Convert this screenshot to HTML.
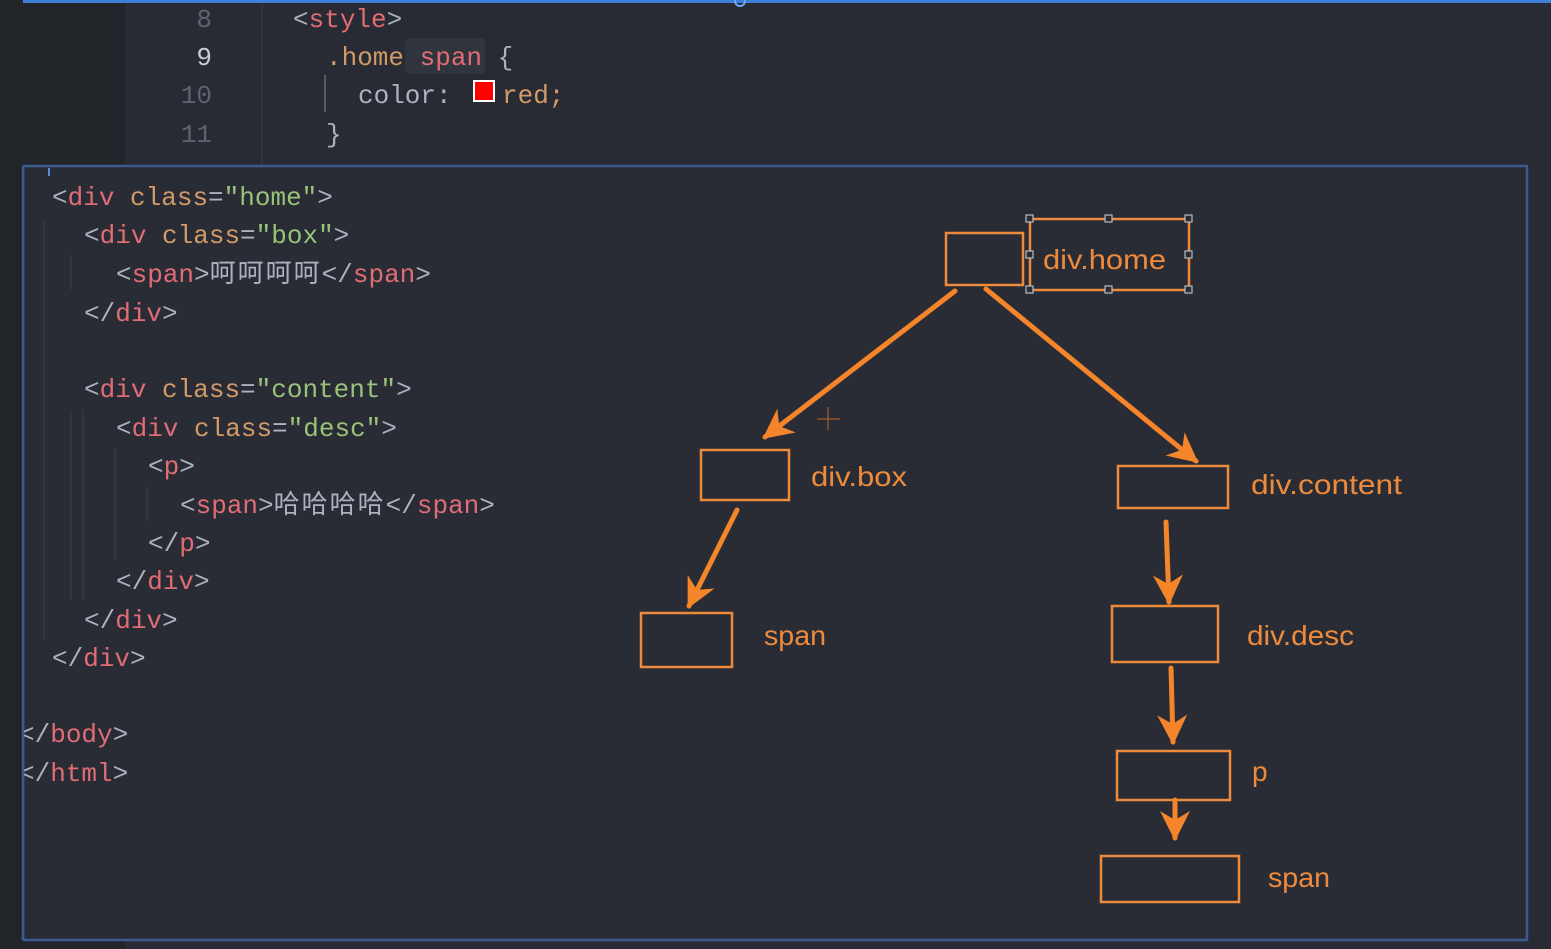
<!DOCTYPE html>
<html><head><meta charset="utf-8">
<style>
html,body{margin:0;padding:0;width:1551px;height:949px;overflow:hidden;background:#23262d;}
svg{display:block}
.m{font-family:"Liberation Mono","Noto Sans CJK SC",monospace;font-size:26px;}
.s{font-family:"Liberation Sans","DejaVu Sans",sans-serif;font-size:28px;fill:#ee8a3c;}
</style></head>
<body>
<svg width="1551" height="949" viewBox="0 0 1551 949" xmlns="http://www.w3.org/2000/svg">
<defs>
<marker id="ah" viewBox="0 0 10 10" refX="9" refY="5" markerWidth="6" markerHeight="6" orient="auto" markerUnits="strokeWidth">
<path d="M0,0 L10,5 L0,10 L3,5 z" fill="#f5852a"/>
</marker>
</defs>
<rect x="0" y="0" width="1551" height="949" fill="#282b33"/>
<rect x="0" y="0" width="125" height="949" fill="#212429"/>
<rect x="0" y="0" width="1551" height="3" fill="#3d7fd9"/>
<circle cx="740" cy="1" r="5" fill="none" stroke="#6fa6ff" stroke-width="2"/>
<line x1="262" y1="5" x2="262" y2="165" stroke="#3a3e46" stroke-width="1"/>
<line x1="325" y1="75" x2="325" y2="112" stroke="#555a63" stroke-width="2"/>
<rect x="405" y="38" width="80" height="36" rx="4" fill="#30343d"/>
<g class="m">
<text x="212" y="27" text-anchor="end" fill="#5c6370">8</text>
<text x="212" y="65" text-anchor="end" fill="#c8ccd4">9</text>
<text x="212" y="103" text-anchor="end" fill="#5c6370">10</text>
<text x="212" y="142" text-anchor="end" fill="#5c6370">11</text>
<text x="293" y="27"><tspan fill="#abb2bf">&lt;</tspan><tspan fill="#e06c75">style</tspan><tspan fill="#abb2bf">&gt;</tspan></text>
<text x="326" y="65"><tspan fill="#d19a66">.home</tspan><tspan fill="#abb2bf"> </tspan><tspan fill="#e06c75">span</tspan><tspan fill="#abb2bf"> {</tspan></text>
<text x="358" y="103" fill="#abb2bf">color:</text>
<text x="502" y="103" fill="#d19a66">red;</text>
<text x="326" y="142" fill="#abb2bf">}</text>
</g>
<rect x="474" y="81" width="20" height="20" fill="#ff0000" stroke="#ffffff" stroke-width="2"/>
<rect x="23" y="166" width="1504" height="774" fill="#292c34" stroke="#3b5b8f" stroke-width="2.5"/>
<rect x="48" y="168" width="2" height="8" fill="#5a8be0"/>
<line x1="44" y1="220" x2="44" y2="640" stroke="#3a3e46" stroke-width="1"/>
<line x1="71" y1="410" x2="71" y2="600" stroke="#3a3e46" stroke-width="1"/>
<line x1="83" y1="410" x2="83" y2="600" stroke="#3a3e46" stroke-width="1"/>
<line x1="115" y1="448" x2="115" y2="560" stroke="#3a3e46" stroke-width="1"/>
<line x1="147" y1="487" x2="147" y2="522" stroke="#3a3e46" stroke-width="1"/>
<line x1="71" y1="255" x2="71" y2="290" stroke="#3a3e46" stroke-width="1"/>
<g class="m">
<text x="52" y="205"><tspan fill="#abb2bf">&lt;</tspan><tspan fill="#e06c75">div</tspan><tspan fill="#abb2bf"> </tspan><tspan fill="#d19a66">class</tspan><tspan fill="#abb2bf">=</tspan><tspan fill="#98c379">"home"</tspan><tspan fill="#abb2bf">&gt;</tspan></text>
<text x="84" y="243"><tspan fill="#abb2bf">&lt;</tspan><tspan fill="#e06c75">div</tspan><tspan fill="#abb2bf"> </tspan><tspan fill="#d19a66">class</tspan><tspan fill="#abb2bf">=</tspan><tspan fill="#98c379">"box"</tspan><tspan fill="#abb2bf">&gt;</tspan></text>
<text x="116" y="282"><tspan fill="#abb2bf">&lt;</tspan><tspan fill="#e06c75">span</tspan><tspan fill="#abb2bf">&gt;</tspan><tspan fill="#abb2bf" letter-spacing="2">呵呵呵呵</tspan><tspan fill="#abb2bf">&lt;/</tspan><tspan fill="#e06c75">span</tspan><tspan fill="#abb2bf">&gt;</tspan></text>
<text x="84" y="321"><tspan fill="#abb2bf">&lt;/</tspan><tspan fill="#e06c75">div</tspan><tspan fill="#abb2bf">&gt;</tspan></text>
<text x="84" y="397"><tspan fill="#abb2bf">&lt;</tspan><tspan fill="#e06c75">div</tspan><tspan fill="#abb2bf"> </tspan><tspan fill="#d19a66">class</tspan><tspan fill="#abb2bf">=</tspan><tspan fill="#98c379">"content"</tspan><tspan fill="#abb2bf">&gt;</tspan></text>
<text x="116" y="436"><tspan fill="#abb2bf">&lt;</tspan><tspan fill="#e06c75">div</tspan><tspan fill="#abb2bf"> </tspan><tspan fill="#d19a66">class</tspan><tspan fill="#abb2bf">=</tspan><tspan fill="#98c379">"desc"</tspan><tspan fill="#abb2bf">&gt;</tspan></text>
<text x="148" y="474"><tspan fill="#abb2bf">&lt;</tspan><tspan fill="#e06c75">p</tspan><tspan fill="#abb2bf">&gt;</tspan></text>
<text x="180" y="513"><tspan fill="#abb2bf">&lt;</tspan><tspan fill="#e06c75">span</tspan><tspan fill="#abb2bf">&gt;</tspan><tspan fill="#abb2bf" letter-spacing="2">哈哈哈哈</tspan><tspan fill="#abb2bf">&lt;/</tspan><tspan fill="#e06c75">span</tspan><tspan fill="#abb2bf">&gt;</tspan></text>
<text x="148" y="551"><tspan fill="#abb2bf">&lt;/</tspan><tspan fill="#e06c75">p</tspan><tspan fill="#abb2bf">&gt;</tspan></text>
<text x="116" y="589"><tspan fill="#abb2bf">&lt;/</tspan><tspan fill="#e06c75">div</tspan><tspan fill="#abb2bf">&gt;</tspan></text>
<text x="84" y="628"><tspan fill="#abb2bf">&lt;/</tspan><tspan fill="#e06c75">div</tspan><tspan fill="#abb2bf">&gt;</tspan></text>
<text x="52" y="666"><tspan fill="#abb2bf">&lt;/</tspan><tspan fill="#e06c75">div</tspan><tspan fill="#abb2bf">&gt;</tspan></text>
<text x="19" y="742"><tspan fill="#abb2bf">&lt;/</tspan><tspan fill="#e06c75">body</tspan><tspan fill="#abb2bf">&gt;</tspan></text>
<text x="19" y="781"><tspan fill="#abb2bf">&lt;/</tspan><tspan fill="#e06c75">html</tspan><tspan fill="#abb2bf">&gt;</tspan></text>
</g>
<rect x="0" y="0" width="23" height="949" fill="#212429"/>
<line x1="23" y1="166" x2="23" y2="940" stroke="#3b5b8f" stroke-width="2.5"/>
<g fill="none" stroke="#ee8a3c" stroke-width="2.5">
<rect x="946" y="233" width="77" height="52"/>
<rect x="1030" y="219" width="159" height="71"/>
<rect x="701" y="450" width="88" height="50"/>
<rect x="1118" y="466" width="110" height="42"/>
<rect x="641" y="613" width="91" height="54"/>
<rect x="1112" y="606" width="106" height="56"/>
<rect x="1117" y="751" width="113" height="49"/>
<rect x="1101" y="856" width="138" height="46"/>
</g>
<g fill="#2a2d34" stroke="#b8bcc4" stroke-width="1.2">
<rect x="1026" y="215" width="7" height="7"/><rect x="1105" y="215" width="7" height="7"/><rect x="1185" y="215" width="7" height="7"/>
<rect x="1026" y="251" width="7" height="7"/><rect x="1185" y="251" width="7" height="7"/>
<rect x="1026" y="286" width="7" height="7"/><rect x="1105" y="286" width="7" height="7"/><rect x="1185" y="286" width="7" height="7"/>
</g>
<g stroke="#c0622a" stroke-width="1"><line x1="828" y1="407" x2="828" y2="430"/><line x1="817" y1="419" x2="840" y2="419"/></g>
<g stroke="#f5852a" stroke-width="5" fill="none" stroke-linecap="round" marker-end="url(#ah)">
<line x1="955" y1="291" x2="765" y2="437"/>
<line x1="986" y1="289" x2="1196" y2="461"/>
<line x1="737" y1="510" x2="689" y2="606"/>
<line x1="1166" y1="522" x2="1169" y2="602"/>
<line x1="1171" y1="668" x2="1173" y2="742"/>
<line x1="1175" y1="800" x2="1175" y2="838"/>
</g>
<text class="s" x="1043" y="269" textLength="123" lengthAdjust="spacingAndGlyphs">div.home</text>
<text class="s" x="811" y="486" textLength="96" lengthAdjust="spacingAndGlyphs">div.box</text>
<text class="s" x="1251" y="494" textLength="151" lengthAdjust="spacingAndGlyphs">div.content</text>
<text class="s" x="764" y="645" textLength="62" lengthAdjust="spacingAndGlyphs">span</text>
<text class="s" x="1247" y="645" textLength="107" lengthAdjust="spacingAndGlyphs">div.desc</text>
<text class="s" x="1252" y="781">p</text>
<text class="s" x="1268" y="887" textLength="62" lengthAdjust="spacingAndGlyphs">span</text>
</svg>
</body></html>
